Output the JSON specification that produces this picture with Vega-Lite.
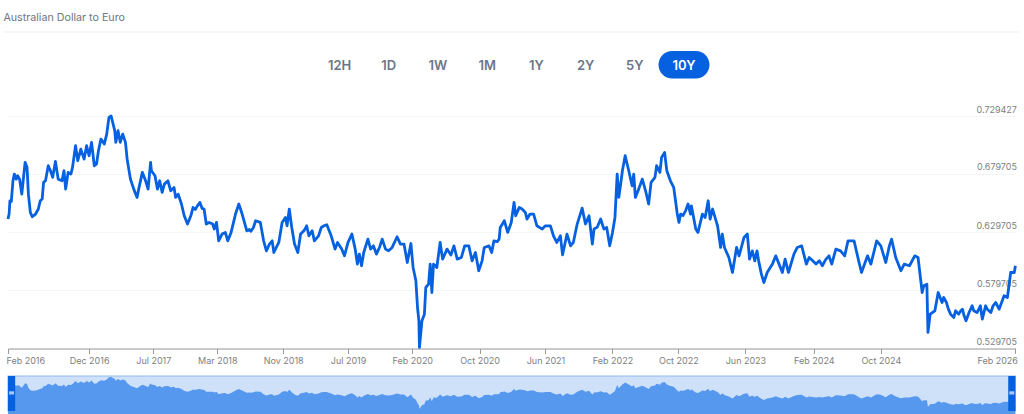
{
  "$schema": "https://vega.github.io/schema/vega-lite/v6.json",
  "background": "white",
  "padding": {"left": 2, "top": 11, "right": 0, "bottom": 0},
  "bounds": "flush",
  "spacing": 27,
  "config": {"view": {"stroke": null}, "font": "Inter"},
  "datasets": {
    "ranges": [{"range":"12H"},{"range":"1D"},{"range":"1W"},{"range":"1M"},{"range":"1Y"},{"range":"2Y"},{"range":"5Y"},{"range":"10Y"}],
    "frame": [{"from":"2016-02-01","to":"2026-02-01","lo":0.5172,"hi":0.7356}],
    "handles": [{"from":"2016-02-01","to":"2016-02-27","lo":0.5172,"hi":0.7356},{"from":"2026-01-06","to":"2026-02-01","lo":0.5172,"hi":0.7356}],
    "grips": [{"from":"2016-02-05","to":"2016-02-23","lo":0.6200,"hi":0.6400},{"from":"2026-01-10","to":"2026-01-28","lo":0.6200,"hi":0.6400}],
    "rate": [
{"d":"2016-02-01","v":0.6409},{"d":"2016-02-05","v":0.6452},{"d":"2016-02-08","v":0.6566},{"d":"2016-02-13","v":0.6560},{"d":"2016-02-19","v":0.6738},{"d":"2016-02-24","v":0.6795},{"d":"2016-03-02","v":0.6752},{"d":"2016-03-07","v":0.6781},{"d":"2016-03-14","v":0.6752},{"d":"2016-03-22","v":0.6623},{"d":"2016-03-27","v":0.6738},{"d":"2016-04-03","v":0.6896},{"d":"2016-04-10","v":0.6853},{"d":"2016-04-15","v":0.6623},{"d":"2016-04-22","v":0.6466},{"d":"2016-04-29","v":0.6429},{"d":"2016-05-11","v":0.6452},{"d":"2016-05-21","v":0.6495},{"d":"2016-05-28","v":0.6566},{"d":"2016-06-04","v":0.6581},{"d":"2016-06-09","v":0.6724},{"d":"2016-06-16","v":0.6738},{"d":"2016-06-26","v":0.6867},{"d":"2016-07-04","v":0.6824},{"d":"2016-07-12","v":0.6767},{"d":"2016-07-22","v":0.6904},{"d":"2016-08-01","v":0.6752},{"d":"2016-08-15","v":0.6738},{"d":"2016-08-22","v":0.6824},{"d":"2016-08-28","v":0.6666},{"d":"2016-09-06","v":0.6810},{"d":"2016-09-16","v":0.6795},{"d":"2016-09-22","v":0.6853},{"d":"2016-10-03","v":0.7039},{"d":"2016-10-11","v":0.6910},{"d":"2016-10-22","v":0.7010},{"d":"2016-11-03","v":0.6924},{"d":"2016-11-12","v":0.7039},{"d":"2016-11-21","v":0.6953},{"d":"2016-11-30","v":0.7068},{"d":"2016-12-10","v":0.6867},{"d":"2016-12-18","v":0.6881},{"d":"2016-12-25","v":0.6996},
{"d":"2017-01-03","v":0.7096},{"d":"2017-01-15","v":0.7053},{"d":"2017-01-24","v":0.7139},{"d":"2017-02-01","v":0.7282},{"d":"2017-02-09","v":0.7294},{"d":"2017-02-22","v":0.7168},{"d":"2017-02-26","v":0.7068},{"d":"2017-03-06","v":0.7168},{"d":"2017-03-14","v":0.7068},{"d":"2017-03-23","v":0.7139},{"d":"2017-04-02","v":0.7068},{"d":"2017-04-08","v":0.6924},{"d":"2017-04-20","v":0.6752},{"d":"2017-05-02","v":0.6666},{"d":"2017-05-14","v":0.6595},{"d":"2017-05-20","v":0.6666},{"d":"2017-06-02","v":0.6810},{"d":"2017-06-14","v":0.6738},{"d":"2017-06-23","v":0.6666},{"d":"2017-07-02","v":0.6896},{"d":"2017-07-05","v":0.6824},{"d":"2017-07-18","v":0.6781},{"d":"2017-07-27","v":0.6666},{"d":"2017-08-04","v":0.6738},{"d":"2017-08-13","v":0.6638},{"d":"2017-08-21","v":0.6709},{"d":"2017-09-03","v":0.6738},{"d":"2017-09-13","v":0.6652},{"d":"2017-09-25","v":0.6681},{"d":"2017-10-01","v":0.6595},{"d":"2017-10-10","v":0.6623},{"d":"2017-10-22","v":0.6538},{"d":"2017-11-01","v":0.6437},{"d":"2017-11-13","v":0.6366},{"d":"2017-11-25","v":0.6437},{"d":"2017-12-03","v":0.6509},{"d":"2017-12-11","v":0.6490},{"d":"2017-12-19","v":0.6523},{"d":"2017-12-28","v":0.6552},
{"d":"2018-01-05","v":0.6500},{"d":"2018-01-12","v":0.6495},{"d":"2018-01-20","v":0.6366},{"d":"2018-01-30","v":0.6380},{"d":"2018-02-12","v":0.6366},{"d":"2018-02-18","v":0.6323},{"d":"2018-02-26","v":0.6380},{"d":"2018-03-06","v":0.6222},{"d":"2018-03-18","v":0.6280},{"d":"2018-03-30","v":0.6294},{"d":"2018-04-08","v":0.6222},{"d":"2018-04-20","v":0.6294},{"d":"2018-05-06","v":0.6452},{"d":"2018-05-18","v":0.6538},{"d":"2018-05-30","v":0.6452},{"d":"2018-06-16","v":0.6308},{"d":"2018-06-25","v":0.6320},{"d":"2018-07-01","v":0.6305},{"d":"2018-07-10","v":0.6337},{"d":"2018-07-18","v":0.6394},{"d":"2018-08-04","v":0.6380},{"d":"2018-08-16","v":0.6222},{"d":"2018-08-26","v":0.6136},{"d":"2018-09-06","v":0.6194},{"d":"2018-09-16","v":0.6222},{"d":"2018-09-22","v":0.6122},{"d":"2018-10-10","v":0.6208},{"d":"2018-10-22","v":0.6380},{"d":"2018-11-03","v":0.6423},{"d":"2018-11-09","v":0.6351},{"d":"2018-11-17","v":0.6495},{"d":"2018-11-26","v":0.6337},{"d":"2018-12-06","v":0.6194},{"d":"2018-12-18","v":0.6122},{"d":"2018-12-28","v":0.6280},
{"d":"2019-01-09","v":0.6308},{"d":"2019-01-19","v":0.6351},{"d":"2019-01-27","v":0.6265},{"d":"2019-02-08","v":0.6308},{"d":"2019-02-16","v":0.6222},{"d":"2019-03-03","v":0.6265},{"d":"2019-03-13","v":0.6337},{"d":"2019-03-23","v":0.6351},{"d":"2019-04-02","v":0.6360},{"d":"2019-04-18","v":0.6265},{"d":"2019-05-02","v":0.6151},{"d":"2019-05-11","v":0.6208},{"d":"2019-05-26","v":0.6151},{"d":"2019-06-05","v":0.6093},{"d":"2019-06-18","v":0.6208},{"d":"2019-07-02","v":0.6280},{"d":"2019-07-14","v":0.6151},{"d":"2019-07-22","v":0.6022},{"d":"2019-07-29","v":0.6108},{"d":"2019-08-06","v":0.6008},{"d":"2019-08-14","v":0.6122},{"d":"2019-08-29","v":0.6237},{"d":"2019-09-08","v":0.6151},{"d":"2019-09-18","v":0.6179},{"d":"2019-09-29","v":0.6108},{"d":"2019-10-10","v":0.6165},{"d":"2019-10-20","v":0.6237},{"d":"2019-11-01","v":0.6151},{"d":"2019-11-12","v":0.6136},{"d":"2019-11-25","v":0.6165},{"d":"2019-12-13","v":0.6257},{"d":"2019-12-25","v":0.6194},
{"d":"2020-01-07","v":0.6194},{"d":"2020-01-19","v":0.6036},{"d":"2020-02-01","v":0.6199},{"d":"2020-02-09","v":0.5993},{"d":"2020-02-19","v":0.5879},{"d":"2020-02-25","v":0.5649},{"d":"2020-03-01","v":0.5535},{"d":"2020-03-03","v":0.5306},{"d":"2020-03-12","v":0.5535},{"d":"2020-03-21","v":0.5592},{"d":"2020-03-26","v":0.5821},{"d":"2020-04-05","v":0.5850},{"d":"2020-04-11","v":0.6022},{"d":"2020-04-17","v":0.5778},{"d":"2020-04-23","v":0.6022},{"d":"2020-05-05","v":0.5993},{"d":"2020-05-17","v":0.6208},{"d":"2020-05-26","v":0.6065},{"d":"2020-06-11","v":0.6151},{"d":"2020-06-25","v":0.6100},{"d":"2020-07-06","v":0.6179},{"d":"2020-07-18","v":0.6065},{"d":"2020-08-02","v":0.6079},{"d":"2020-08-14","v":0.6179},{"d":"2020-08-29","v":0.6179},{"d":"2020-09-10","v":0.6050},{"d":"2020-09-22","v":0.6122},{"d":"2020-10-04","v":0.5965},{"d":"2020-10-16","v":0.6050},{"d":"2020-10-24","v":0.6165},{"d":"2020-11-10","v":0.6179},{"d":"2020-11-20","v":0.6122},{"d":"2020-11-28","v":0.6222},{"d":"2020-12-10","v":0.6215},{"d":"2020-12-17","v":0.6237},{"d":"2020-12-21","v":0.6337},
{"d":"2021-01-05","v":0.6394},{"d":"2021-01-17","v":0.6294},{"d":"2021-01-30","v":0.6380},{"d":"2021-02-09","v":0.6552},{"d":"2021-02-15","v":0.6437},{"d":"2021-02-28","v":0.6509},{"d":"2021-03-10","v":0.6495},{"d":"2021-03-22","v":0.6466},{"d":"2021-03-28","v":0.6409},{"d":"2021-04-08","v":0.6452},{"d":"2021-04-21","v":0.6452},{"d":"2021-05-03","v":0.6351},{"d":"2021-05-22","v":0.6323},{"d":"2021-06-03","v":0.6351},{"d":"2021-06-21","v":0.6351},{"d":"2021-07-02","v":0.6265},{"d":"2021-07-14","v":0.6208},{"d":"2021-07-27","v":0.6265},{"d":"2021-08-04","v":0.6102},{"d":"2021-08-20","v":0.6280},{"d":"2021-09-02","v":0.6179},{"d":"2021-09-12","v":0.6208},{"d":"2021-09-26","v":0.6366},{"d":"2021-10-14","v":0.6503},{"d":"2021-10-26","v":0.6366},{"d":"2021-11-08","v":0.6437},{"d":"2021-11-20","v":0.6194},{"d":"2021-11-26","v":0.6323},{"d":"2021-12-08","v":0.6340},{"d":"2021-12-20","v":0.6409},
{"d":"2022-01-01","v":0.6323},{"d":"2022-01-11","v":0.6337},{"d":"2022-01-22","v":0.6179},{"d":"2022-02-01","v":0.6294},{"d":"2022-02-10","v":0.6423},{"d":"2022-02-18","v":0.6795},{"d":"2022-02-24","v":0.6595},{"d":"2022-03-01","v":0.6681},{"d":"2022-03-09","v":0.6824},{"d":"2022-03-19","v":0.6953},{"d":"2022-04-01","v":0.6824},{"d":"2022-04-13","v":0.6695},{"d":"2022-04-19","v":0.6795},{"d":"2022-04-25","v":0.6595},{"d":"2022-05-07","v":0.6666},{"d":"2022-05-20","v":0.6752},{"d":"2022-06-01","v":0.6652},{"d":"2022-06-12","v":0.6538},{"d":"2022-06-21","v":0.6724},{"d":"2022-07-05","v":0.6767},{"d":"2022-07-11","v":0.6867},{"d":"2022-07-23","v":0.6810},{"d":"2022-07-29","v":0.6939},{"d":"2022-08-09","v":0.6982},{"d":"2022-08-17","v":0.6824},{"d":"2022-08-30","v":0.6738},{"d":"2022-09-11","v":0.6681},{"d":"2022-09-24","v":0.6452},{"d":"2022-09-30","v":0.6380},{"d":"2022-10-06","v":0.6452},{"d":"2022-10-15","v":0.6440},{"d":"2022-10-24","v":0.6480},{"d":"2022-11-02","v":0.6538},{"d":"2022-11-11","v":0.6452},{"d":"2022-11-14","v":0.6523},{"d":"2022-11-30","v":0.6323},{"d":"2022-12-08","v":0.6294},{"d":"2022-12-24","v":0.6452},
{"d":"2023-01-03","v":0.6423},{"d":"2023-01-14","v":0.6566},{"d":"2023-01-21","v":0.6409},{"d":"2023-01-30","v":0.6495},{"d":"2023-02-17","v":0.6351},{"d":"2023-02-28","v":0.6165},{"d":"2023-03-06","v":0.6280},{"d":"2023-03-14","v":0.6165},{"d":"2023-03-30","v":0.6079},{"d":"2023-04-12","v":0.5950},{"d":"2023-04-27","v":0.6165},{"d":"2023-05-06","v":0.6093},{"d":"2023-05-24","v":0.6251},{"d":"2023-06-05","v":0.6280},{"d":"2023-06-13","v":0.6065},{"d":"2023-06-23","v":0.6136},{"d":"2023-07-02","v":0.6050},{"d":"2023-07-10","v":0.6136},{"d":"2023-07-16","v":0.6050},{"d":"2023-07-26","v":0.5936},{"d":"2023-08-04","v":0.5864},{"d":"2023-08-16","v":0.5950},{"d":"2023-09-04","v":0.6022},{"d":"2023-09-16","v":0.6093},{"d":"2023-09-28","v":0.6022},{"d":"2023-10-10","v":0.5950},{"d":"2023-10-20","v":0.6065},{"d":"2023-11-01","v":0.5950},{"d":"2023-11-21","v":0.6108},{"d":"2023-12-03","v":0.6165},{"d":"2023-12-19","v":0.6179},
{"d":"2024-01-05","v":0.6022},{"d":"2024-01-15","v":0.6079},{"d":"2024-01-28","v":0.6050},{"d":"2024-02-09","v":0.6022},{"d":"2024-02-21","v":0.6050},{"d":"2024-03-03","v":0.6008},{"d":"2024-03-15","v":0.6060},{"d":"2024-03-27","v":0.6093},{"d":"2024-04-06","v":0.6022},{"d":"2024-04-21","v":0.6151},{"d":"2024-05-08","v":0.6136},{"d":"2024-05-23","v":0.6093},{"d":"2024-06-04","v":0.6222},{"d":"2024-06-26","v":0.6222},{"d":"2024-07-14","v":0.6036},{"d":"2024-07-23","v":0.5950},{"d":"2024-08-14","v":0.6093},{"d":"2024-08-26","v":0.6022},{"d":"2024-09-16","v":0.6222},{"d":"2024-10-01","v":0.6179},{"d":"2024-10-19","v":0.6036},{"d":"2024-11-01","v":0.6179},{"d":"2024-11-09","v":0.6237},{"d":"2024-11-24","v":0.6079},{"d":"2024-12-13","v":0.5965},{"d":"2024-12-25","v":0.6022},
{"d":"2025-01-13","v":0.6008},{"d":"2025-02-01","v":0.6093},{"d":"2025-02-13","v":0.6079},{"d":"2025-02-28","v":0.5778},{"d":"2025-03-06","v":0.5836},{"d":"2025-03-17","v":0.5850},{"d":"2025-03-21","v":0.5435},{"d":"2025-03-29","v":0.5592},{"d":"2025-04-15","v":0.5621},{"d":"2025-04-27","v":0.5778},{"d":"2025-05-11","v":0.5692},{"d":"2025-05-17","v":0.5735},{"d":"2025-05-27","v":0.5692},{"d":"2025-06-03","v":0.5635},{"d":"2025-06-11","v":0.5592},{"d":"2025-06-23","v":0.5563},{"d":"2025-06-29","v":0.5621},{"d":"2025-07-10","v":0.5592},{"d":"2025-07-18","v":0.5621},{"d":"2025-07-24","v":0.5635},{"d":"2025-07-30","v":0.5578},{"d":"2025-08-06","v":0.5535},{"d":"2025-08-17","v":0.5606},{"d":"2025-08-28","v":0.5664},{"d":"2025-09-03","v":0.5621},{"d":"2025-09-15","v":0.5606},{"d":"2025-09-27","v":0.5664},{"d":"2025-10-04","v":0.5549},{"d":"2025-10-16","v":0.5664},{"d":"2025-10-22","v":0.5635},{"d":"2025-11-04","v":0.5606},{"d":"2025-11-12","v":0.5664},{"d":"2025-11-22","v":0.5692},{"d":"2025-12-04","v":0.5635},{"d":"2025-12-22","v":0.5750},
{"d":"2026-01-03","v":0.5735},{"d":"2026-01-15","v":0.5950},{"d":"2026-01-28","v":0.5950},{"d":"2026-02-01","v":0.6008}
    ]
  },
  "vconcat": [
    {
      "width": 1007.4,
      "height": 57,
      "title": {"text": "Australian Dollar to Euro", "anchor": "start", "frame": "group", "dx": -4.6, "offset": 8, "fontSize": 10.7, "font": "Inter", "fontWeight": 400, "color": "#6f7680"},
      "resolve": {"scale": {"x": "independent"}},
      "layer": [
        {
          "data": {"values": [{"line": "divider"}]},
          "mark": {"type": "rule", "color": "#f0f0f0", "strokeWidth": 1},
          "encoding": {
            "x": {"datum": 0, "type": "quantitative", "scale": {"domain": [0, 1], "range": [-4.6, 1011.4]}, "axis": null},
            "x2": {"datum": 1},
            "y": {"datum": 30, "type": "quantitative", "scale": {"domain": [31, 88], "reverse": true}, "axis": null}
          }
        },
        {
          "data": {"name": "ranges"},
          "transform": [{"filter": "datum.range === '10Y'"}],
          "mark": {"type": "bar", "width": 51, "cornerRadius": 14, "color": "#0561e0"},
          "encoding": {
            "x": {"field": "range", "type": "nominal", "sort": null, "scale": {"domain": ["12H","1D","1W","1M","1Y","2Y","5Y","10Y"], "range": [307.0, 700.6], "paddingInner": 0, "paddingOuter": 0}, "axis": null},
            "y": {"datum": 50, "type": "quantitative"},
            "y2": {"datum": 79}
          }
        },
        {
          "data": {"name": "ranges"},
          "mark": {"type": "text", "fontSize": 13, "fontWeight": 600, "font": "Inter"},
          "encoding": {
            "x": {"field": "range", "type": "nominal", "sort": null, "scale": {"domain": ["12H","1D","1W","1M","1Y","2Y","5Y","10Y"], "range": [307.0, 700.6], "paddingInner": 0, "paddingOuter": 0}, "axis": null},
            "y": {"datum": 65.5, "type": "quantitative"},
            "text": {"field": "range"},
            "color": {"condition": {"test": "datum.range === '10Y'", "value": "#ffffff"}, "value": "#6b7689"}
          }
        }
      ]
    },
    {
      "width": 1007.4,
      "height": 232.5,
      "data": {"name": "rate"},
      "mark": {"type": "line", "color": "#0561e0", "strokeWidth": 2.8, "strokeJoin": "round"},
      "encoding": {
        "x": {
          "field": "d", "type": "temporal", "title": null,
          "scale": {"type": "utc", "domain": ["2016-02-01", "2026-02-01"], "nice": false},
          "axis": {
            "values": ["2016-02-01","2016-11-21","2017-07-12","2018-03-01","2018-10-26","2019-06-18","2020-02-06","2020-10-07","2021-06-03","2022-02-01","2022-09-28","2023-05-29","2024-02-01","2024-10-01","2026-02-01"],
            "labelExpr": "utcFormat(time(datum.value) + 1296000000, '%b %Y')",
            "grid": false, "domainColor": "#999999", "tickColor": "#999999", "tickSize": 5,
            "labelColor": "#808080", "labelFontSize": 9, "labelFont": "Inter", "labelPadding": 3, "labelFlush": true, "labelFlushOffset": 2, "labelOverlap": false
          }
        },
        "y": {
          "field": "v", "type": "quantitative", "title": null,
          "scale": {"domain": [0.529705, 0.729427], "nice": false, "zero": false},
          "axis": {
            "orient": "right", "values": [0.529705, 0.579705, 0.629705, 0.679705, 0.729427], "format": ".6f",
            "domain": false, "ticks": false, "grid": true, "gridColor": "#f5f5f5",
            "labelAlign": "right", "labelBaseline": "bottom", "labelOffset": -2, "labelPadding": 1,
            "labelColor": "#808080", "labelFontSize": 9, "labelFont": "Inter"
          }
        }
      }
    },
    {
      "width": 1007.4,
      "height": 35,
      "layer": [
        {
          "data": {"name": "frame"},
          "mark": {"type": "rect", "fill": "#cfe0f9", "stroke": "#8fbaf5", "strokeWidth": 1.2},
          "encoding": {
            "x": {"field": "from", "type": "temporal", "title": null, "scale": {"type": "utc", "domain": ["2016-02-01", "2026-02-01"], "nice": false}, "axis": null},
            "x2": {"field": "to"},
            "y": {"field": "lo", "type": "quantitative", "title": null, "scale": {"domain": [0.5172, 0.7356], "nice": false, "zero": false}, "axis": null},
            "y2": {"field": "hi"}
          }
        },
        {
          "data": {"name": "rate"},
          "mark": {"type": "area", "color": "#5598ee"},
          "encoding": {
            "x": {"field": "d", "type": "temporal"},
            "y": {"field": "v", "type": "quantitative"}
          }
        },
        {
          "data": {"name": "handles"},
          "mark": {"type": "rect", "fill": "#0561e0"},
          "encoding": {
            "x": {"field": "from", "type": "temporal"},
            "x2": {"field": "to"},
            "y": {"field": "lo", "type": "quantitative"},
            "y2": {"field": "hi"}
          }
        },
        {
          "data": {"name": "grips"},
          "mark": {"type": "rect", "fill": "#a9c8f5"},
          "encoding": {
            "x": {"field": "from", "type": "temporal"},
            "x2": {"field": "to"},
            "y": {"field": "lo", "type": "quantitative"},
            "y2": {"field": "hi"}
          }
        }
      ]
    }
  ]
}
